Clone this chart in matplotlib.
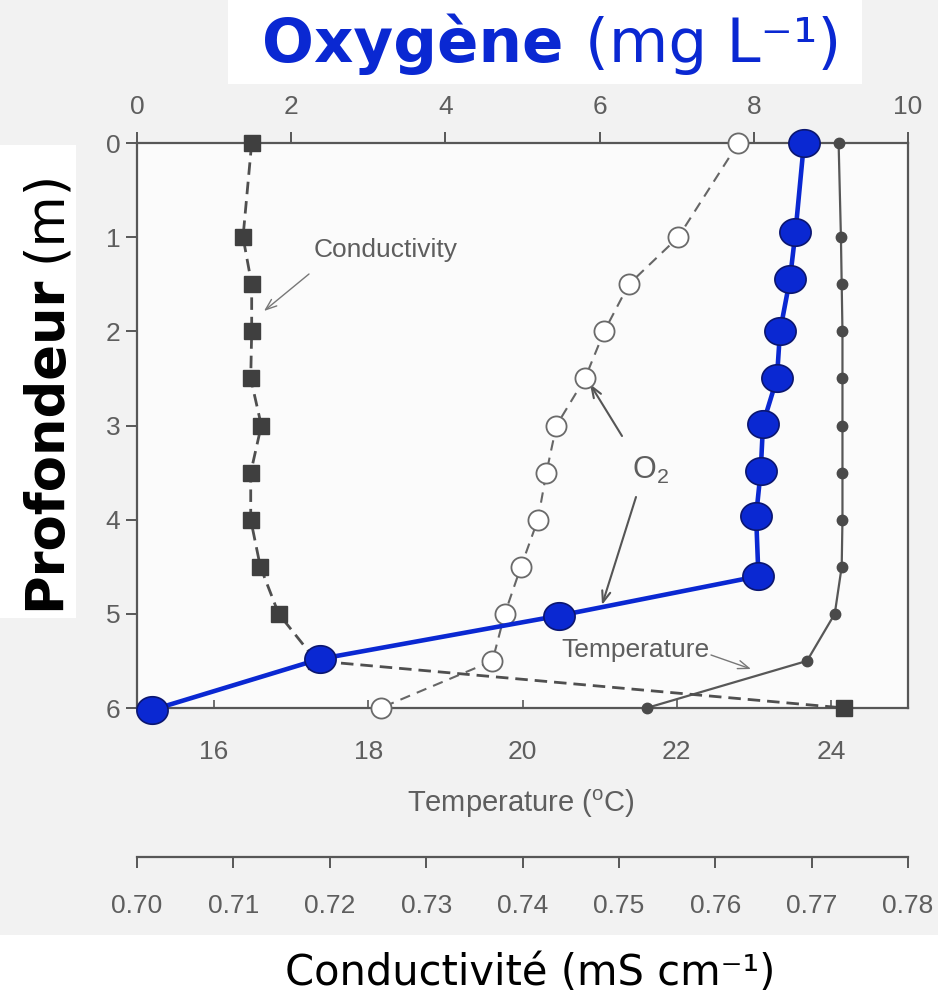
import matplotlib
matplotlib.use('Agg')
import matplotlib.pyplot as plt
import numpy as np
from matplotlib.patches import Rectangle
from matplotlib.path import Path

# ---------------- data ----------------
depth = [0, 1, 1.5, 2, 2.5, 3, 3.5, 4, 4.5, 5, 5.5, 6]
temperature = [24.10, 24.13, 24.14, 24.15, 24.15, 24.15, 24.15, 24.15, 24.14, 24.05, 23.69, 21.61]
conductivity = [0.7119, 0.7110, 0.7119, 0.7119, 0.7118, 0.7129, 0.7118, 0.7118, 0.7128, 0.7147, 0.7186, 0.7734]
oxygen_orig = [7.80, 7.02, 6.38, 6.06, 5.81, 5.44, 5.31, 5.20, 4.98, 4.77, 4.61, 3.16]
blue_depth = [0, 0.95, 1.44, 2.0, 2.5, 2.98, 3.48, 3.96, 4.6, 5.02, 5.48, 6.02]
blue_oxygen = [8.65, 8.54, 8.47, 8.34, 8.30, 8.12, 8.09, 8.03, 8.06, 5.47, 2.37, 0.20]

depth_ticks = [0, 1, 2, 3, 4, 5, 6]
oxy_ticks = [0, 2, 4, 6, 8, 10]
temp_ticks = [16, 18, 20, 22, 24]
cond_ticks = [0.70, 0.71, 0.72, 0.73, 0.74, 0.75, 0.76, 0.77, 0.78]
cond_labels = ["0.70", "0.71", "0.72", "0.73", "0.74", "0.75", "0.76", "0.77", "0.78"]

# ---------------- style ----------------
plt.rcParams['font.family'] = ['Liberation Sans', 'DejaVu Sans']
GRAY = '#575757'
TXT = '#5e5e5e'
BLUE = '#0a28d2'
BLUE_EDGE = '#0b1670'

W, H = 938, 996
fig = plt.figure(figsize=(W / 100, H / 100), dpi=100, facecolor='#f2f2f2')

def fx(x):
    return x / W

def fy(y):
    return 1 - y / H

# white patches (title, y-label, bottom label)
for (x0, y0, x1, y1) in [(228, 0, 862, 84), (0, 145, 76, 618), (0, 935, 938, 996)]:
    fig.add_artist(Rectangle((fx(x0), fy(y1)), fx(x1) - fx(x0), fy(y0) - fy(y1),
                             transform=fig.transFigure, facecolor='white',
                             edgecolor='none', zorder=-5))

L, R, T, B = 137, 908, 143, 708
ax = fig.add_axes([fx(L), fy(B), fx(R) - fx(L), fy(T) - fy(B)])
ax.set_facecolor('#fbfbfb')

# temperature axis (bottom)
ax.set_xlim(15, 25)
ax.set_ylim(6, 0)
ax.set_xticks(temp_ticks)
ax.set_yticks(depth_ticks)
for s in ax.spines.values():
    s.set_color(GRAY)
    s.set_linewidth(1.6)
ax.tick_params(axis='x', direction='in', length=6, width=1.2, color=GRAY,
               labelcolor=TXT, labelsize=19, pad=23)
ax.tick_params(axis='y', direction='out', length=8, width=1.4, color=GRAY,
               labelcolor=TXT, labelsize=19, pad=4)
ax.plot(temperature, depth, color=GRAY, lw=1.6, marker='o', ms=7.5,
        mfc='#4a4a4a', mec='#4a4a4a', zorder=3, clip_on=False)

# conductivity axis (separate bottom scale)
axC = ax.twiny()
axC.set_xlim(0.70, 0.78)
axC.set_ylim(6, 0)
axC.xaxis.set_ticks_position('bottom')
axC.xaxis.set_label_position('bottom')
axC.spines['bottom'].set_position(('outward', 107))
for k, s in axC.spines.items():
    s.set_visible(k == 'bottom')
axC.spines['bottom'].set_color(GRAY)
axC.spines['bottom'].set_linewidth(1.6)
axC.set_xticks(cond_ticks)
axC.set_xticklabels(cond_labels)
axC.tick_params(axis='x', direction='out', length=8, width=1.4, color=GRAY,
                labelcolor=TXT, labelsize=19, pad=19)
axC.plot(conductivity, depth, color='#4f4f4f', lw=2.0, ls=(0, (4.5, 2.5)),
         marker='s', ms=12, mfc='#3f3f3f', mec='#3f3f3f', zorder=3, clip_on=False)

# oxygen axis (top)
axO = ax.twiny()
axO.set_xlim(0, 10)
axO.set_ylim(6, 0)
axO.set_xticks(oxy_ticks)
for s in axO.spines.values():
    s.set_visible(False)
axO.tick_params(axis='x', direction='out', length=8, width=1.4, color=GRAY,
                labelcolor=TXT, labelsize=19, pad=9)
axO.plot(oxygen_orig, depth, color='#666666', lw=1.5, ls=(0, (5, 3.5)),
         marker='o', ms=14.5, mfc='white', mec='#6a6a6a', mew=1.3, zorder=3,
         clip_on=False)

t = np.linspace(0, 2 * np.pi, 60)
ellipse = Path(np.column_stack([np.cos(t), 0.88 * np.sin(t)]))
axO.plot(blue_oxygen, blue_depth, color=BLUE, lw=3.3, marker=ellipse, ms=22.5,
         mfc=BLUE, mec=BLUE_EDGE, mew=1.2, zorder=6, clip_on=False)

# ---------------- annotations ----------------
ann = dict(color=TXT, fontsize=19)
fig.text(fx(386), fy(250), "Conductivity", ha='center', va='center', **ann)
fig.text(fx(635), fy(650), "Temperature", ha='center', va='center', **ann)
fig.text(fx(650), fy(470), r"O$\mathregular{_2}$", ha='center', va='center',
         color=TXT, fontsize=22)

def arrow(x0, y0, x1, y1, lw=1.0, color='#777777'):
    ax.annotate("", xy=(x1, H - y1), xycoords='figure pixels',
                xytext=(x0, H - y0), textcoords='figure pixels',
                arrowprops=dict(arrowstyle='->,head_length=0.8,head_width=0.3',
                                color=color, lw=lw, shrinkA=0, shrinkB=0))

arrow(309, 274, 264, 311)
arrow(622, 436, 590, 384, lw=1.5, color='#555555')
arrow(636, 497, 602, 605, lw=1.5, color='#555555')
arrow(711, 655, 751, 669)

# axis labels
fig.text(fx(521), fy(804), r"Temperature ($\mathregular{^o}$C)", ha='center',
         va='center', color=TXT, fontsize=21)

fig.text(fx(262), fy(62), "Oxygène", ha='left', va='baseline', color=BLUE,
         fontsize=44, fontweight='bold', family='DejaVu Sans')
fig.text(fx(585), fy(62), "(mg L⁻¹)", ha='left', va='baseline', color=BLUE,
         fontsize=44, family='DejaVu Sans')

fig.text(fx(60), fy(610), "Profondeur", rotation=90, rotation_mode='anchor',
         ha='left', va='baseline', color='black', fontsize=38, fontweight='bold',
         family='DejaVu Sans')
fig.text(fx(60), fy(262), "(m)", rotation=90, rotation_mode='anchor',
         ha='left', va='baseline', color='black', fontsize=38,
         family='DejaVu Sans')

fig.text(fx(285), fy(985), "Conductivité (mS cm⁻¹)", ha='left', va='baseline',
         color='black', fontsize=30, family='DejaVu Sans')

fig.savefig('out.png', dpi=100, facecolor=fig.get_facecolor())
